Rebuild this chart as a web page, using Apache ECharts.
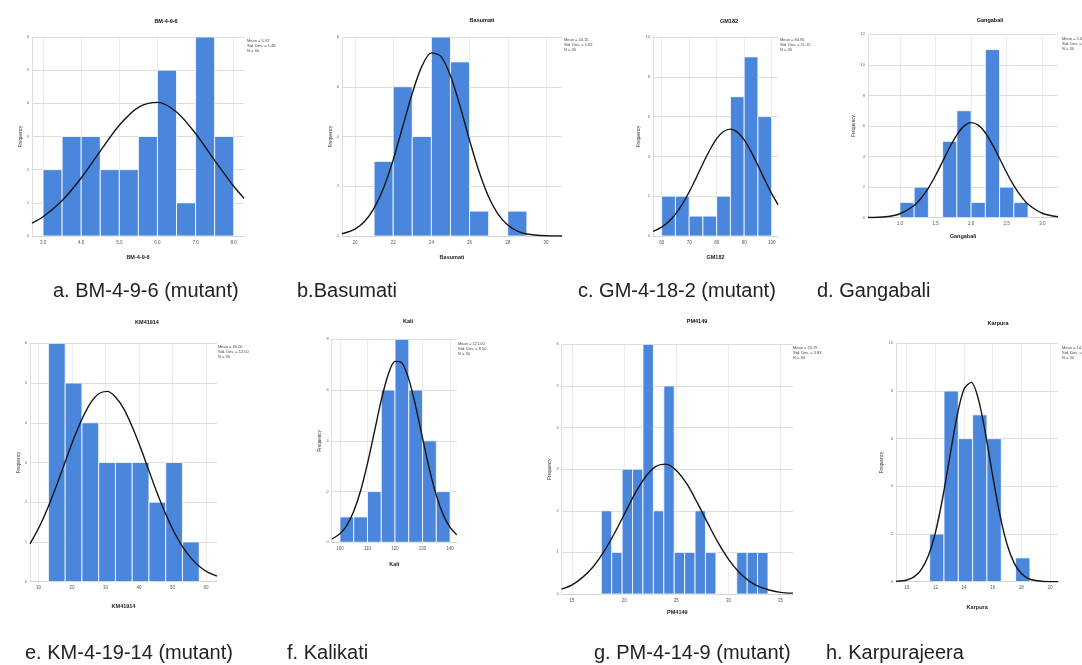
<!DOCTYPE html>
<html>
<head>
<meta charset="utf-8">
<title>Grain trait distributions</title>
<style>
  html, body { margin: 0; padding: 0; background: #ffffff; }
  #chart { width: 1082px; height: 665px; }
</style>
<script src="https://cdn.jsdelivr.net/npm/echarts@6/dist/echarts.min.js"></script>
</head>
<body>
<div id="chart"></div>
<script>
// ---------- data: one histogram + fitted normal curve per line ----------
// a. BM-4-9-6 (mutant)
const bmTicks  = [3, 4, 5, 6, 7, 8];
const bmCounts = [2, 3, 3, 2, 2, 3, 5, 1, 6, 3];
const bmCurve  = [[2.71,0.39],[3.0,0.58],[3.5,1.07],[4.0,1.75],[4.5,2.56],[5.0,3.34],[5.5,3.88],
                  [6.0,4.03],[6.5,3.74],[7.0,3.09],[7.5,2.28],[8.0,1.50],[8.27,1.14]];
// b. Basumati
const basTicks  = [20, 22, 24, 26, 28, 30];
const basCounts = [3, 6, 4, 8, 7, 1, 0, 1];
const basCurve  = [[19.32,0.09],[20,0.28],[20.5,0.58],[21,1.12],[21.5,1.94],[22,3.06],[22.5,4.40],
                   [23,5.74],[23.5,6.82],[24,7.36],[24.5,7.22],[25,6.44],[25.5,5.22],[26,3.85],
                   [26.5,2.58],[27,1.57],[27.5,0.87],[28,0.44],[28.5,0.20],[29,0.08],[30,0.01],[30.84,0]];
// c. GM-4-18-2 (mutant)
const gmTicks  = [60, 70, 80, 90, 100];
const gmCounts = [2, 2, 1, 1, 2, 7, 9, 6];
const gmCurve  = [[56.84,0.23],[60,0.45],[62.5,0.72],[65,1.10],[67.5,1.60],[70,2.21],[72.5,2.91],
                  [75,3.64],[77.5,4.32],[80,4.89],[82.5,5.25],[85,5.37],[87.5,5.22],[90,4.83],
                  [92.5,4.24],[95,3.55],[97.5,2.82],[100,2.13],[102.3,1.58]];
// d. Gangabali
const gbTicks  = [1.0, 1.5, 2.0, 2.5, 3.0];
const gbCounts = [1, 2, 0, 5, 7, 1, 11, 2, 1];
const gbCurve  = [[0.552,0.01],[0.8,0.06],[1.0,0.26],[1.2,0.80],[1.3,1.29],[1.4,1.94],[1.5,2.76],
                  [1.6,3.68],[1.7,4.61],[1.8,5.42],[1.9,5.99],[2.0,6.22],[2.1,6.06],[2.2,5.56],
                  [2.3,4.78],[2.4,3.87],[2.5,2.94],[2.6,2.10],[2.7,1.41],[2.8,0.88],[3.0,0.29],[3.22,0.06]];
// e. KM-4-19-14 (mutant)
const kmTicks  = [10, 20, 30, 40, 50, 60];
const kmCounts = [6, 5, 4, 3, 3, 3, 2, 3, 1];
const kmCurve  = [[7.5,0.95],[10.5,1.42],[13,1.90],[15.5,2.44],[18,3.02],[20.5,3.59],[23,4.09],
                  [25.5,4.49],[28,4.73],[30.5,4.79],[33,4.65],[35.5,4.35],[38,3.90],[40.5,3.37],
                  [43,2.79],[45.5,2.22],[48,1.70],[50.5,1.25],[53,0.88],[55.5,0.60],[58,0.39],
                  [60.5,0.24],[63.3,0.14]];
// f. Kalikati
const kkTicks  = [100, 110, 120, 130, 140];
const kkCounts = [1, 1, 2, 6, 8, 6, 4, 2];
const kkCurve  = [[97,0.13],[100,0.34],[102.5,0.67],[105,1.22],[107.5,2.03],[110,3.11],[112.5,4.35],
                  [115,5.60],[117.5,6.60],[120,7.13],[122.5,7.07],[125,6.43],[127.5,5.36],[130,4.10],
                  [132.5,2.88],[135,1.85],[137.5,1.09],[140,0.59],[142.4,0.30]];
// g. PM-4-14-9 (mutant)
const pmTicks  = [15, 20, 25, 30, 35];
const pmCounts = [2, 1, 3, 3, 6, 2, 5, 1, 1, 2, 1, 0, 0, 1, 1, 1];
const pmCurve  = [[14,0.12],[15,0.22],[16,0.40],[17,0.65],[18,1.00],[19,1.43],[20,1.91],[21,2.40],
                  [22,2.80],[23,3.06],[24,3.12],[25,2.97],[26,2.65],[27,2.20],[28,1.71],[29,1.24],
                  [30,0.84],[31,0.53],[32,0.31],[33,0.17],[34,0.09],[35,0.04],[36.2,0.02]];
// h. Karpurajeera
const kjTicks  = [10, 12, 14, 16, 18, 20];
const kjCounts = [2, 8, 6, 7, 6, 0, 1];
const kjCurve  = [[9.25,0.01],[10,0.07],[10.5,0.20],[11,0.50],[11.5,1.08],[12,2.06],[12.5,3.49],
                  [13,5.22],[13.5,6.91],[14,8.08],[14.5,8.36],[15,7.66],[15.5,6.20],[16,4.44],
                  [16.5,2.81],[17,1.57],[17.5,0.78],[18,0.34],[18.5,0.13],[19,0.05],[20,0.0],[20.58,0]];

const captions = ['a. BM-4-9-6 (mutant)', 'b.Basumati', 'c. GM-4-18-2 (mutant)', 'd. Gangabali',
                  'e. KM-4-19-14 (mutant)', 'f. Kalikati', 'g. PM-4-14-9 (mutant)', 'h. Karpurajeera'];
const varNames = ['BM-4-9-6', 'Basumati', 'GM182', 'Gangabali', 'KM41914', 'Kali', 'PM4149', 'Karpura'];

// histogram settings (bins, axis ranges, fitted statistics)
const panels = [
  { ticks: bmTicks,  dec: 1, binStart: 3,    binWidth: 0.5, counts: bmCounts,  curve: bmCurve,  xMin: 2.71,  xMax: 8.27,  yMax: 6,  yStep: 1, mean: 5.92,  sd: 1.48 },
  { ticks: basTicks, dec: 0, binStart: 21,   binWidth: 1,   counts: basCounts, curve: basCurve, xMin: 19.32, xMax: 30.84, yMax: 8,  yStep: 2, mean: 24.15, sd: 1.62 },
  { ticks: gmTicks,  dec: 0, binStart: 60,   binWidth: 5,   counts: gmCounts,  curve: gmCurve,  xMin: 56.84, xMax: 102.3, yMax: 10, yStep: 2, mean: 84.85, sd: 11.15 },
  { ticks: gbTicks,  dec: 1, binStart: 1.0,  binWidth: 0.2, counts: gbCounts,  curve: gbCurve,  xMin: 0.552, xMax: 3.22,  yMax: 12, yStep: 2, mean: 2.01,  sd: 0.40 },
  { ticks: kmTicks,  dec: 0, binStart: 13,   binWidth: 5,   counts: kmCounts,  curve: kmCurve,  xMin: 7.5,   xMax: 63.3,  yMax: 6,  yStep: 1, mean: 30.0,  sd: 12.5 },
  { ticks: kkTicks,  dec: 0, binStart: 100,  binWidth: 5,   counts: kkCounts,  curve: kkCurve,  xMin: 97,    xMax: 142.4, yMax: 8,  yStep: 2, mean: 121.0, sd: 8.5 },
  { ticks: pmTicks,  dec: 0, binStart: 17.8, binWidth: 1,   counts: pmCounts,  curve: pmCurve,  xMin: 14.0,  xMax: 36.2,  yMax: 6,  yStep: 1, mean: 23.79, sd: 3.83 },
  { ticks: kjTicks,  dec: 0, binStart: 11.6, binWidth: 1,   counts: kjCounts,  curve: kjCurve,  xMin: 9.25,  xMax: 20.58, yMax: 10, yStep: 2, mean: 14.39, sd: 1.43 }
];

// ---------- page layout (pixels) ----------
const layout = [
  { left: 32,    top: 37,    width: 212,   height: 199,   title: [166, 21],    stats: [247, 38],  xGap: 18, yGap: 9 },
  { left: 342,   top: 37,    width: 220,   height: 199,   title: [482, 20],    stats: [564, 37],  xGap: 18, yGap: 7 },
  { left: 653,   top: 37,    width: 125,   height: 199,   title: [729, 21],    stats: [780, 37],  xGap: 18, yGap: 5 },
  { left: 868,   top: 34.3,  width: 190,   height: 183.4, title: [990, 20],    stats: [1062, 36], xGap: 16, yGap: 8 },
  { left: 30,    top: 343.3, width: 187,   height: 238.4, title: [147, 322],   stats: [218, 344], xGap: 22, yGap: 8 },
  { left: 331.7, top: 339.3, width: 125,   height: 203,   title: [408, 321],   stats: [458, 341], xGap: 19, yGap: 4 },
  { left: 561.7, top: 344.3, width: 231.3, height: 249.7, title: [697, 321],   stats: [793, 345], xGap: 15, yGap: 8 },
  { left: 896,   top: 343.3, width: 162.3, height: 238.4, title: [998, 323],   stats: [1062, 345], xGap: 23, yGap: 7 }
];
const captionPos = [[53, 291], [297, 291], [578, 291], [817, 291], [25, 653], [287, 653], [594, 653], [826, 653]];

const FONT = '"Liberation Sans", Arial, Helvetica, sans-serif';
const BAR = '#4a87dc';
const GRID_H = '#d9d9d9';
const GRID_V = '#e6e6e6';

const grids = [], xAxes = [], yAxes = [], series = [], graphics = [];

panels.forEach((p, i) => {
  const L = layout[i];
  grids.push({ left: L.left, top: L.top, width: L.width, height: L.height, containLabel: false });

  xAxes.push({
    type: 'value', gridIndex: i, min: p.xMin, max: p.xMax,
    name: varNames[i], nameLocation: 'middle', nameGap: L.xGap,
    nameTextStyle: { fontFamily: FONT, fontSize: 5.5, fontWeight: 'bold', color: '#222' },
    axisLine: { show: true, lineStyle: { color: '#cfcfcf', width: 0.8 } },
    axisTick: { show: false, customValues: p.ticks },
    axisLabel: { customValues: p.ticks, fontFamily: FONT, fontSize: 4.5, color: '#555', margin: 4,
                 formatter: v => Number(v).toFixed(p.dec) },
    splitLine: { show: true, customValues: p.ticks, lineStyle: { color: GRID_V, width: 0.8 } }
  });

  yAxes.push({
    type: 'value', gridIndex: i, min: 0, max: p.yMax, interval: p.yStep,
    name: 'Frequency', nameLocation: 'middle', nameGap: L.yGap, nameRotate: 90,
    nameTextStyle: { fontFamily: FONT, fontSize: 4.5, color: '#333' },
    axisLine: { show: true, lineStyle: { color: '#d6d6d6', width: 0.8 } },
    axisTick: { show: false },
    axisLabel: { fontFamily: FONT, fontSize: 4, color: '#666', margin: 3 },
    splitLine: { show: true, lineStyle: { color: GRID_H, width: 0.9 } }
  });

  const bins = p.counts.map((c, k) => [p.binStart + k * p.binWidth, p.binStart + (k + 1) * p.binWidth, c]);
  series.push({
    type: 'custom', xAxisIndex: i, yAxisIndex: i, data: bins, z: 2,
    encode: { x: [0, 1], y: 2 },
    renderItem: (params, api) => {
      const h = api.value(2);
      if (!h) return null;
      const p0 = api.coord([api.value(0), h]);
      const p1 = api.coord([api.value(1), 0]);
      return {
        type: 'rect',
        shape: { x: p0[0], y: p0[1], width: p1[0] - p0[0], height: p1[1] - p0[1] },
        style: { fill: BAR, stroke: '#ffffff', lineWidth: 0.8 }
      };
    }
  });

  series.push({
    type: 'line', xAxisIndex: i, yAxisIndex: i, data: p.curve, z: 3,
    smooth: 0.3, symbol: 'none',
    lineStyle: { color: '#151515', width: 1.4 }
  });

  // panel title
  graphics.push({
    type: 'text', x: L.title[0], y: L.title[1],
    style: { text: varNames[i], font: 'bold 5.5px ' + FONT, fill: '#111', align: 'center', verticalAlign: 'middle' }
  });
  // fitted-curve statistics
  graphics.push({
    type: 'text', x: L.stats[0], y: L.stats[1],
    style: {
      text: 'Mean = ' + p.mean.toFixed(2) + '\nStd. Dev. = ' + p.sd.toFixed(2) + '\nN = 30',
      font: '4px ' + FONT, lineHeight: 5, fill: '#444', align: 'left', verticalAlign: 'top'
    }
  });
  // figure caption
  graphics.push({
    type: 'text', x: captionPos[i][0], y: captionPos[i][1],
    style: { text: captions[i], font: '20px ' + FONT, fill: '#222', align: 'left', verticalAlign: 'middle' }
  });
});

const chart = echarts.init(document.getElementById('chart'), null, { renderer: 'canvas' });
chart.setOption({
  animation: false,
  backgroundColor: '#ffffff',
  grid: grids,
  xAxis: xAxes,
  yAxis: yAxes,
  series: series,
  graphic: graphics
});
</script>
</body>
</html>
